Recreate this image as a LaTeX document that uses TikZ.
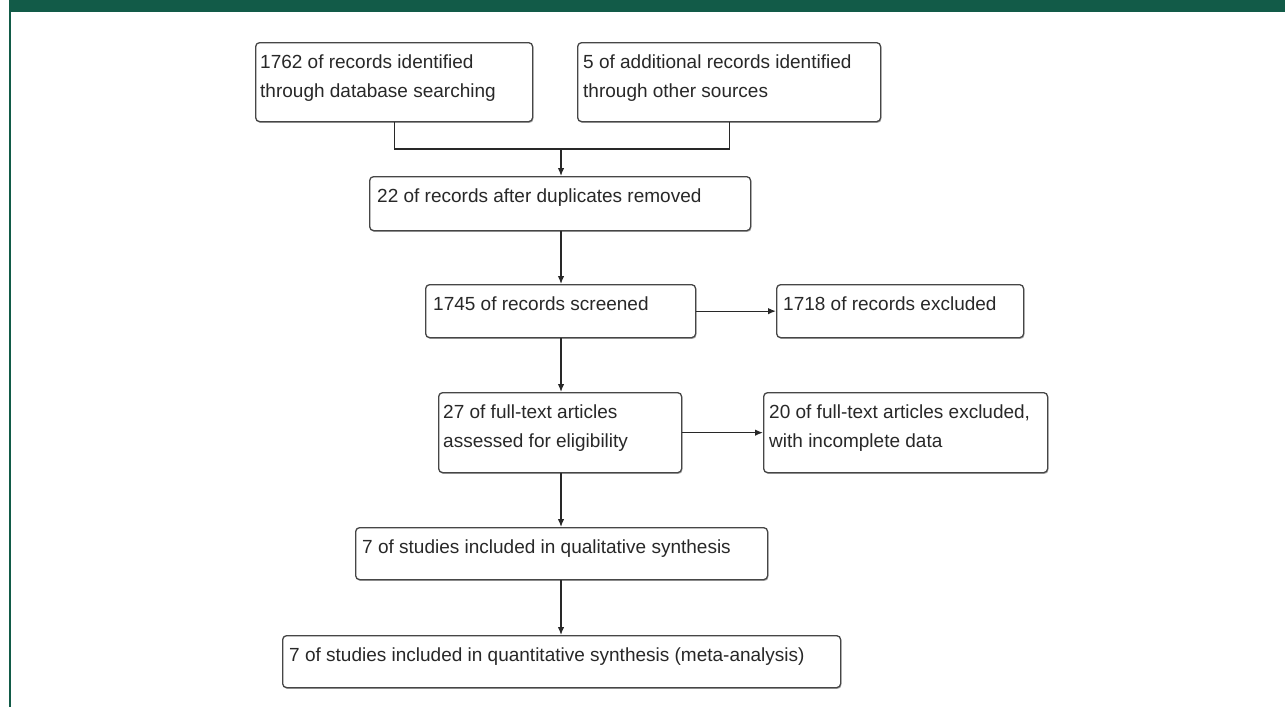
\documentclass[tikz,border=0pt]{standalone}
\usepackage{fontspec}
\setmainfont{Liberation Sans}
\usetikzlibrary{arrows.meta,shadows,calc}
\definecolor{band}{RGB}{18,91,72}
\definecolor{ink}{RGB}{40,40,40}
\definecolor{edge}{RGB}{70,70,70}
\begin{document}
\begin{tikzpicture}[x=1pt,y=-1pt,
  box/.style={draw=edge, line width=1.3pt, rounded corners=4pt, fill=white, anchor=north west, inner sep=0pt,
    drop shadow={shadow xshift=0.8pt, shadow yshift=-1.3pt, fill=black!50, opacity=0.6}},
  lbl/.style={anchor=north west, inner sep=0pt, align=left, text=ink, font=\fontsize{19}{29.5}\selectfont},
  conn/.style={draw=ink, line width=1.3pt},
  arr/.style={conn, -{Latex[length=8pt,width=6.5pt]}}]
\useasboundingbox (0,0) rectangle (1285,707);
\fill[white] (0,0) rectangle (1285,707);
\fill[band] (9,0) rectangle (1285,12);
\fill[band] (9,12) rectangle (11,707);

\node[box, minimum width=277pt, minimum height=79pt] (b1) at (255,42) {};
\node[box, minimum width=303pt, minimum height=79pt] (b2) at (577,42) {};
\node[box, minimum width=381pt, minimum height=54pt] (b3) at (369,176) {};
\node[box, minimum width=270pt, minimum height=53pt] (b4) at (425,284) {};
\node[box, minimum width=247pt, minimum height=53pt] (b5) at (776,284) {};
\node[box, minimum width=243pt, minimum height=80pt] (b6) at (438,392) {};
\node[box, minimum width=284pt, minimum height=80pt] (b7) at (763,392) {};
\node[box, minimum width=412pt, minimum height=52pt] (b8) at (355,527) {};
\node[box, minimum width=558pt, minimum height=52pt] (b9) at (282,635) {};

\node[lbl] (t1) at ($(b1.north west)+(5,12.5)$) {1762 of records identified\\through database searching};
\node[lbl] (t2) at ($(b2.north west)+(6,12.5)$) {5 of additional records identified\\through other sources};
\node[lbl] (t3) at ($(b3.north west)+(8,12.5)$) {22 of records after duplicates removed};
\node[lbl] (t4) at ($(b4.north west)+(8,12.5)$) {1745 of records screened};
\node[lbl] (t5) at ($(b5.north west)+(7,12.5)$) {1718 of records excluded};
\node[lbl] (t6) at ($(b6.north west)+(5,12.5)$) {27 of full-text articles\\assessed for eligibility};
\node[lbl] (t7) at ($(b7.north west)+(6,12.5)$) {20 of full-text articles excluded,\\with incomplete data};
\node[lbl] (t8) at ($(b8.north west)+(7,12.5)$) {7 of studies included in qualitative synthesis};
\node[lbl] (t9) at ($(b9.north west)+(7,12.5)$) {7 of studies included in quantitative synthesis (meta-analysis)};

\coordinate (J) at (561,149);
\draw[conn] (b1.south) |- (J) -| (b2.south);
\draw[arr] (J) -- (J |- b3.north);
\draw[arr] (b3.south -| J) -- (b4.north -| J);
\draw[arr] (b4.south -| J) -- (b6.north -| J);
\draw[arr] (b6.south -| J) -- (b8.north -| J);
\draw[arr] (b8.south -| J) -- (b9.north -| J);
\draw[arr] (b4.east) -- (b5.west |- b4.east);
\draw[arr] (b6.east) -- (b7.west |- b6.east);
\end{tikzpicture}
\end{document}
